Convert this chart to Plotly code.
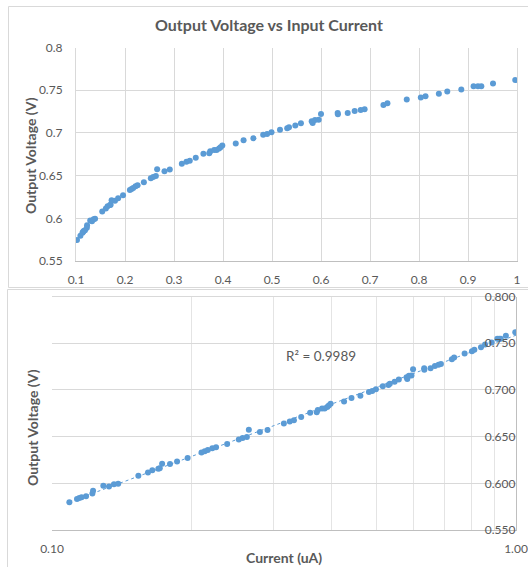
import numpy as np
import plotly.graph_objects as go

# ---- data ----
current_ua = [0.102, 0.109, 0.1132, 0.1145, 0.1158, 0.1184, 0.1222, 0.1226, 0.1290, 0.1327,
              0.1360, 0.1389, 0.1535, 0.1610, 0.1645, 0.1695, 0.1707, 0.1727, 0.1796, 0.1860,
              0.1960, 0.2100, 0.2134, 0.2167, 0.2216, 0.2257, 0.2385, 0.2527, 0.2575, 0.2630,
              0.2656, 0.2806, 0.2914, 0.3160, 0.3254, 0.3322, 0.3444, 0.3600, 0.3720, 0.3740,
              0.3820, 0.3870, 0.3920, 0.3950, 0.3986, 0.4260, 0.4420, 0.4620, 0.4820, 0.4900,
              0.4990, 0.5163, 0.5310, 0.5347, 0.5476, 0.5590, 0.5810, 0.5830, 0.5878, 0.5953,
              0.6000, 0.6340, 0.6345, 0.6545, 0.6687, 0.6810, 0.6890, 0.7274, 0.7356, 0.7750,
              0.8037, 0.8133, 0.8405, 0.8577, 0.8863, 0.9114, 0.9203, 0.9272, 0.9510, 0.9964]
voltage_v = [0.5745, 0.5797, 0.5832, 0.5842, 0.5850, 0.5861, 0.5890, 0.5920, 0.5975, 0.5965,
             0.5990, 0.5996, 0.6080, 0.6116, 0.6140, 0.6155, 0.6160, 0.6210, 0.6206, 0.6234,
             0.6270, 0.6330, 0.6344, 0.6356, 0.6376, 0.6387, 0.6422, 0.6469, 0.6484, 0.6495,
             0.6573, 0.6550, 0.6570, 0.6640, 0.6663, 0.6674, 0.6710, 0.6756, 0.6762, 0.6785,
             0.6800, 0.6800, 0.6818, 0.6833, 0.6852, 0.6876, 0.6914, 0.6937, 0.6977, 0.6988,
             0.7007, 0.7038, 0.7053, 0.7065, 0.7088, 0.7112, 0.7135, 0.7116, 0.7151, 0.7155,
             0.7221, 0.7233, 0.7217, 0.7233, 0.7257, 0.7269, 0.7276, 0.7328, 0.7347, 0.7390,
             0.7414, 0.7429, 0.7457, 0.7485, 0.7508, 0.7547, 0.7547, 0.7547, 0.7579, 0.7618]

# the log-scale chart in the reference does not show the first point
log_current_ua = current_ua[1:]
log_voltage_v = voltage_v[1:]

title_text = "Output Voltage vs Input Current"
y_title = "Output Voltage (V)"
x_title = "Current (uA)"
r_squared_label = "R² = 0.9989"
log_tick_vals = [0.1, 1.0]
log_tick_text = ["0.10", "1.00"]
log_minor_vals = [0.2, 0.3, 0.4, 0.5, 0.6, 0.7, 0.8, 0.9]

# logarithmic trendline (Excel style) fitted to the log chart data
coef = np.polyfit(np.log(log_current_ua), log_voltage_v, 1)
trend_x = np.geomspace(min(log_current_ua), 1.0, 60)
trend_y = np.polyval(coef, np.log(trend_x))

# ---- layout helpers (pixel -> paper) ----
W, H = 528, 567
def px(p):
    return p / W
def py(p):
    return 1 - p / H

FONT = "Lato"
TXT = "#595959"
GRID = "#D9D9D9"
BLUE = "#5B9BD5"

fig = go.Figure()
fig.add_trace(go.Scatter(x=current_ua, y=voltage_v, mode="markers",
                         marker=dict(color=BLUE, size=6, line=dict(width=0)),
                         xaxis="x", yaxis="y", hoverinfo="x+y"))
fig.add_trace(go.Scatter(x=trend_x, y=trend_y, mode="lines",
                         line=dict(color=BLUE, width=1, dash="dot"),
                         xaxis="x2", yaxis="y2", hoverinfo="skip"))
fig.add_trace(go.Scatter(x=log_current_ua, y=log_voltage_v, mode="markers",
                         marker=dict(color=BLUE, size=6, line=dict(width=0)),
                         xaxis="x2", yaxis="y2", hoverinfo="x+y"))

tickfont = dict(family=FONT, size=12, color=TXT)

fig.update_layout(
    template="none",
    width=W, height=H, autosize=False,
    margin=dict(l=0, r=0, t=0, b=0, pad=0, autoexpand=False),
    paper_bgcolor="white", plot_bgcolor="white",
    showlegend=False,
    font=dict(family=FONT, color=TXT),
    title=dict(text=title_text, x=px(269), y=py(25), xref="paper", yref="container",
               xanchor="center", yanchor="middle", automargin=False,
               font=dict(family=FONT, size=16, color=TXT, weight="bold")),
    xaxis=dict(domain=[px(76), px(517)], anchor="y", range=[0.1, 1.0], automargin=False,
               tick0=0.1, dtick=0.1, showgrid=True, gridcolor=GRID, gridwidth=1,
               zeroline=False, showline=True, linecolor="#BFBFBF", linewidth=1,
               ticks="", tickfont=tickfont, ticklabelstandoff=8,
               ticklabeloverflow="allow"),
    yaxis=dict(domain=[py(261), py(47.5)], anchor="x", range=[0.55, 0.8], automargin=False,
               tick0=0.55, dtick=0.05, showgrid=True, gridcolor=GRID, gridwidth=1,
               zeroline=False, showline=True, linecolor=GRID, mirror=True,
               ticks="", tickfont=tickfont, ticklabelstandoff=10,
               ticklabeloverflow="allow"),
    xaxis2=dict(domain=[px(52), px(516)], anchor="y2", type="log", range=[-1, 0],
                automargin=False,
                tickmode="array", tickvals=log_tick_vals, ticktext=log_tick_text,
                showgrid=True, gridcolor=GRID, gridwidth=1,
                minor=dict(tickmode="array", tickvals=log_minor_vals, showgrid=True,
                           gridcolor="#E4E4E4", gridwidth=1, ticks=""),
                zeroline=False, showline=True, linecolor="#BFBFBF", linewidth=1,
                ticks="", tickfont=tickfont, ticklabelstandoff=8,
                ticklabeloverflow="allow"),
    yaxis2=dict(domain=[py(530), py(296.5)], anchor="x2", side="right", automargin=False,
                range=[0.55, 0.8], tick0=0.55, dtick=0.05, tickformat=".3f",
                ticklabelposition="inside", ticklabeloverflow="allow",
                showgrid=True, gridcolor=GRID, gridwidth=1,
                zeroline=False, showline=True, linecolor="#BFBFBF", linewidth=1,
                ticks="", tickfont=tickfont),
    shapes=[
        dict(type="rect", xref="paper", yref="paper", x0=px(8.5), x1=px(540),
             y0=py(287.5), y1=py(6.5), line=dict(color=GRID, width=1), layer="below"),
        dict(type="rect", xref="paper", yref="paper", x0=px(7.5), x1=px(540),
             y0=py(580), y1=py(289.5), line=dict(color=GRID, width=1), layer="below"),
        # top edge of the log plot area (gridline at the range maximum)
        dict(type="line", xref="x2 domain", yref="y2 domain", x0=0, x1=1, y0=1, y1=1,
             line=dict(color=GRID, width=1), layer="below"),
    ],
    annotations=[
        dict(text=y_title, x=px(30), y=py(156), xref="paper", yref="paper",
             textangle=-90, showarrow=False, xanchor="center", yanchor="middle",
             font=dict(family=FONT, size=14, color=TXT, weight="bold")),
        dict(text=y_title, x=px(32), y=py(428), xref="paper", yref="paper",
             textangle=-90, showarrow=False, xanchor="center", yanchor="middle",
             font=dict(family=FONT, size=14, color=TXT, weight="bold")),
        dict(text=x_title, x=px(284), y=py(557.5), xref="paper", yref="paper",
             showarrow=False, xanchor="center", yanchor="middle",
             font=dict(family=FONT, size=14, color=TXT, weight="bold")),
        dict(text=r_squared_label, x=px(321), y=py(356), xref="paper", yref="paper",
             showarrow=False, xanchor="center", yanchor="middle",
             font=dict(family=FONT, size=13.5, color=TXT)),
    ],
)

fig.write_html("out.html", config={"displayModeBar": False},
               post_script="document.body.style.margin='0px';")
